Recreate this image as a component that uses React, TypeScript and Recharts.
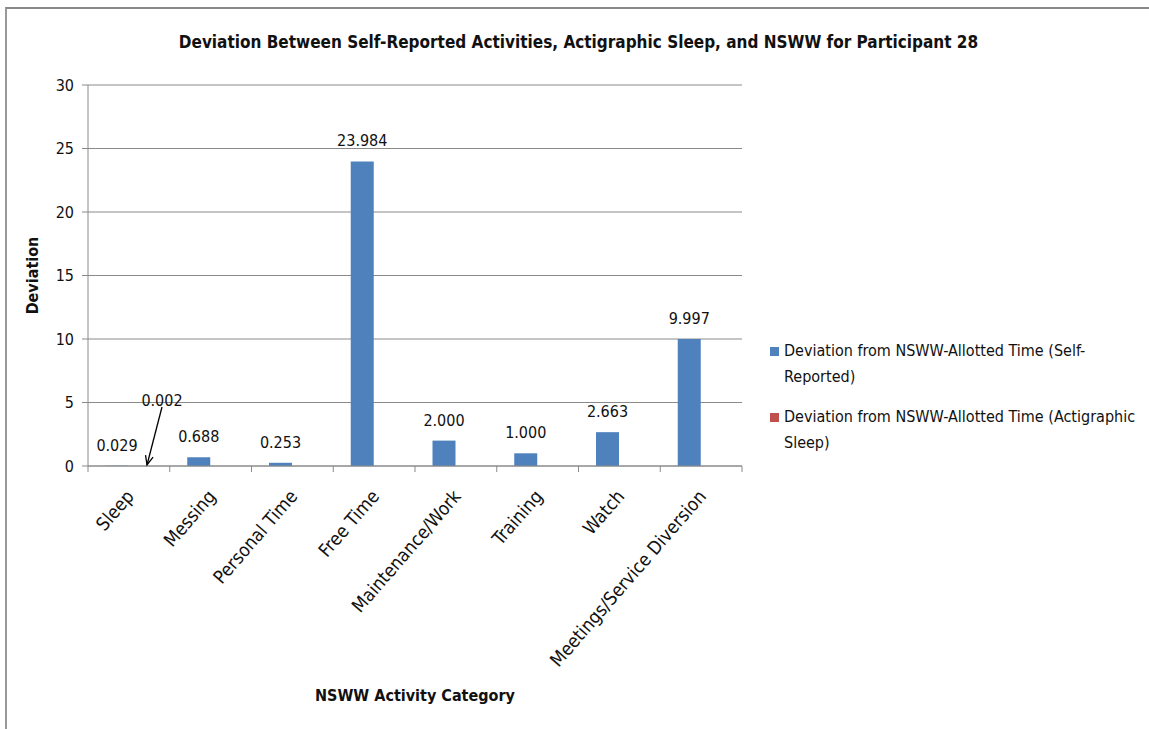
import { BarChart, Bar, XAxis, YAxis, CartesianGrid, LabelList } from "recharts";

const CATEGORIES = [
  "Sleep",
  "Messing",
  "Personal Time",
  "Free Time",
  "Maintenance/Work",
  "Training",
  "Watch",
  "Meetings/Service Diversion",
];
const SELF_REPORTED = [0.029, 0.688, 0.253, 23.984, 2.0, 1.0, 2.663, 9.997];
const ACTIGRAPHIC = [0.002, null, null, null, null, null, null, null];
const Y_TICKS = [0, 5, 10, 15, 20, 25, 30];

const SERIES_NAMES = [
  "Deviation from NSWW-Allotted Time (Self-Reported)",
  "Deviation from NSWW-Allotted Time (Actigraphic Sleep)",
];
const COLORS = ["#4F81BD", "#C0504D"];

const FONT = "'Liberation Sans Narrow', 'DejaVu Sans Condensed', 'Liberation Sans', sans-serif";
const GRID = "#8a8a8a";
const FS = 16;

const data = CATEGORIES.map((name, i) => ({
  name,
  self: SELF_REPORTED[i],
  acti: ACTIGRAPHIC[i] ?? undefined,
}));

function CategoryTick(props: any) {
  const { x, y, payload, index } = props;
  const half = payload?.offset ?? 40.9;
  const top = y - 8;
  const ax = x + 6;
  const ay = top + 31;
  return (
    <g>
      <line x1={x - half} y1={top} x2={x - half} y2={top + 6} stroke={GRID} />
      {index === CATEGORIES.length - 1 && (
        <line x1={x + half} y1={top} x2={x + half} y2={top + 6} stroke={GRID} />
      )}
      <text
        x={ax}
        y={ay}
        textAnchor="end"
        transform={`rotate(-49, ${ax}, ${ay})`}
        fontFamily={FONT}
        fontSize={18.5}
        fill="#111"
      >
        {payload.value}
      </text>
    </g>
  );
}

function ValueLabel(props: any) {
  const { x, y, width, value } = props;
  if (value == null) return null;
  return (
    <text x={x + width / 2} y={y - 15} textAnchor="middle" fontFamily={FONT} fontSize={FS} fill="#111">
      {Number(value).toFixed(3)}
    </text>
  );
}

function ArrowLabel(props: any) {
  const { x, y, width, value } = props;
  if (value == null) return null;
  const cx = x + width / 2;
  const tipX = cx + 7;
  const tipY = y - 1;
  const sx = cx + 22;
  const sy = y - 59;
  const ang = Math.atan2(tipY - sy, tipX - sx);
  const a1 = ang + Math.PI - 0.4;
  const a2 = ang + Math.PI + 0.4;
  return (
    <g>
      <line x1={sx} y1={sy} x2={tipX} y2={tipY} stroke="#000" strokeWidth={1.3} />
      <polyline
        points={`${tipX + 10 * Math.cos(a1)},${tipY + 10 * Math.sin(a1)} ${tipX},${tipY} ${tipX + 10 * Math.cos(a2)},${tipY + 10 * Math.sin(a2)}`}
        fill="none"
        stroke="#000"
        strokeWidth={1.3}
      />
      <text x={sx} y={sy - 1} textAnchor="middle" fontFamily={FONT} fontSize={FS} fill="#111">
        {Number(value).toFixed(3)}
      </text>
    </g>
  );
}

function ChartLegend() {
  return (
    <div
      style={{
        position: "absolute",
        left: 770,
        top: 338,
        width: 370,
        fontFamily: FONT,
        fontSize: FS,
        color: "#111",
        lineHeight: "26px",
      }}
    >
      {SERIES_NAMES.map((name, i) => (
        <div key={name} style={{ display: "flex", alignItems: "flex-start", marginBottom: 14 }}>
          <span
            style={{
              display: "inline-block",
              width: 9,
              height: 9,
              background: COLORS[i],
              marginTop: 9,
              marginRight: 5,
              flexShrink: 0,
            }}
          />
          <span>{name}</span>
        </div>
      ))}
    </div>
  );
}

export default function App() {
  return (
    <div
      style={{
        position: "absolute",
        left: 0,
        top: 0,
        width: 1149,
        height: 729,
        background: "#fff",
        overflow: "hidden",
      }}
    >
      <div
        style={{
          position: "absolute",
          left: 5,
          top: 7,
          width: 1160,
          height: 740,
          borderTop: "2px solid #888",
          borderLeft: "2px solid #999",
        }}
      />
      <div
        style={{
          position: "absolute",
          left: 0,
          top: 32,
          width: 1157,
          textAlign: "center",
          fontFamily: FONT,
          fontSize: 17,
          fontWeight: "bold",
          color: "#111",
        }}
      >
        Deviation Between Self-Reported Activities, Actigraphic Sleep, and NSWW for Participant 28
      </div>
      <BarChart
        width={1149}
        height={729}
        data={data}
        margin={{ top: 85, right: 407, bottom: 0, left: 0 }}
        barCategoryGap="21.4%"
        barGap={0}
        style={{ position: "absolute", left: 0, top: 0 }}
      >
        <CartesianGrid vertical={false} stroke={GRID} />
        <XAxis
          dataKey="name"
          interval={0}
          height={263}
          tickLine={false}
          axisLine={{ stroke: GRID }}
          tick={<CategoryTick />}
          label={{
            value: "NSWW Activity Category",
            position: "insideBottom",
            offset: 28,
            style: { fontFamily: FONT, fontSize: FS, fontWeight: "bold", fill: "#111" },
          }}
        />
        <YAxis
          width={88}
          domain={[0, 30]}
          ticks={Y_TICKS}
          tickSize={6}
          tickMargin={8}
          tickLine={{ stroke: GRID }}
          axisLine={{ stroke: GRID }}
          tick={{ fontFamily: FONT, fontSize: FS, fill: "#111" }}
          label={{
            value: "Deviation",
            angle: -90,
            position: "insideLeft",
            offset: 32,
            style: { fontFamily: FONT, fontSize: FS, fontWeight: "bold", fill: "#111", textAnchor: "middle" },
          }}
        />
        <Bar dataKey="self" name={SERIES_NAMES[0]} fill={COLORS[0]} isAnimationActive={false}>
          <LabelList dataKey="self" content={<ValueLabel />} />
        </Bar>
        <Bar dataKey="acti" name={SERIES_NAMES[1]} fill={COLORS[1]} isAnimationActive={false}>
          <LabelList dataKey="acti" content={<ArrowLabel />} />
        </Bar>
      </BarChart>
      <ChartLegend />
    </div>
  );
}
